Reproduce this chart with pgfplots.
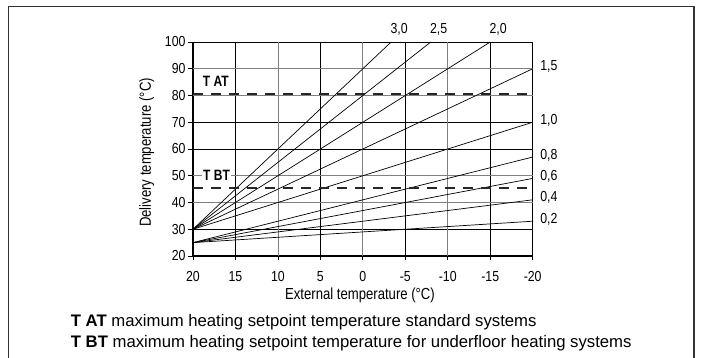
\documentclass[border=0pt]{standalone}
\usepackage{fontspec}
\setmainfont{Liberation Sans}
\newfontfamily\narrowA[FakeStretch=0.85]{Liberation Sans}
\newfontfamily\narrowB[FakeStretch=0.82]{Liberation Sans}
\newfontfamily\narrowC[FakeStretch=0.8]{Liberation Sans}
\usepackage{pgfplots}
\pgfplotsset{compat=1.18}
\newcommand{\tf}{\narrowA\fontsize{14.5}{16}\selectfont}
\newcommand{\lf}{\narrowB\fontsize{16}{18}\selectfont}
\newcommand{\bfn}{\narrowC\bfseries\fontsize{15}{17}\selectfont}
\tikzset{
  line/.style={black, line width=0.7pt},
  toplab/.style={anchor=base west, inner sep=0pt, yshift=8.7pt, xshift=-1pt, font=\tf},
  rlab/.style={anchor=west, inner sep=0pt, xshift=7.3pt, yshift=2pt, font=\tf},
}
\begin{document}
\begin{tikzpicture}[x=1pt,y=1pt]
\begin{axis}[
  at={(193pt,102pt)}, anchor=south west,
  scale only axis, width=339.7pt, height=214pt,
  x dir=reverse, xmin=-20, xmax=20, ymin=20, ymax=100,
  clip=false,
  tick pos=left, tick align=outside, major tick length=4.5pt,
  axis line style={black, line width=1pt},
  every tick/.style={black, line width=0.8pt},
  xtick={20,15,5,-5,-15,-20}, xticklabels={20,15,5,-5,-15,-20},
  extra x ticks={10,0,-10}, extra x tick labels={10,0,-10},
  ytick={20,30,60,70,100}, yticklabels={20,30,60,70,100},
  extra y ticks={40,50,80,90}, extra y tick labels={40,50,80,90},
  grid=major,
  major grid style={black, line width=0.8pt},
  extra x tick style={grid=major, major grid style={black!50, line width=0.8pt}},
  extra y tick style={grid=major, major grid style={black!50, line width=0.8pt}},
  tick label style={font=\tf},
  yticklabel style={xshift=0.5pt},
  xticklabel style={yshift=-7pt},
  xlabel={External temperature (°C)},
  xlabel style={font=\lf, at={(axis description cs:0.4916,-0.1822)}, anchor=center},
  ylabel={Delivery temperature (°C)},
  ylabel style={font=\lf, at={(axis description cs:-0.1363,0.4836)}, anchor=center},
]
\addplot[line] coordinates {(20,30) (-3.333,100)} node[pos=1, toplab] {3,0};
\addplot[line] coordinates {(20,30) (-8,100)} node[pos=1, toplab] {2,5};
\addplot[line] coordinates {(20,30) (-15,100)} node[pos=1, toplab] {2,0};
\addplot[line] coordinates {(20,30) (-20,90)} node[pos=1, rlab] {1,5};
\addplot[line] coordinates {(20,30) (-20,70)} node[pos=1, rlab] {1,0};
\addplot[line] coordinates {(20,25) (-20,57)} node[pos=1, rlab] {0,8};
\addplot[line] coordinates {(20,25) (-20,49)} node[pos=1, rlab] {0,6};
\addplot[line] coordinates {(20,25) (-20,41)} node[pos=1, rlab] {0,4};
\addplot[line] coordinates {(20,25) (-20,33)} node[pos=1, rlab] {0,2};
\addplot[black!85, line width=1.6pt, dash pattern=on 10pt off 8pt] coordinates {(20,80.5) (-20,80.5)};
\addplot[black!85, line width=1.6pt, dash pattern=on 10pt off 8pt] coordinates {(20,45.5) (-20,45.5)};
\node[anchor=west, inner sep=0pt, xshift=9.7pt, font=\bfn] at (axis cs:20,85.2) {T AT};
\node[anchor=west, inner xsep=1.5pt, inner ysep=1pt, fill=white, xshift=8.5pt, font=\bfn] at (axis cs:20,50.3) {T BT};
\end{axis}
\node[anchor=base west, inner sep=0pt, font=\fontsize{16.7}{20}\selectfont] at (70.7,31.3) {\textbf{T AT} maximum heating setpoint temperature standard systems};
\node[anchor=base west, inner sep=0pt, font=\fontsize{16.7}{20}\selectfont] at (70.7,10.7) {\textbf{T BT} maximum heating setpoint temperature for underfloor heating systems};
\draw[line width=1.2pt, black!80] (8.8,-3) -- (8.8,351.3) -- (694,351.3) -- (694,-3);
\pgfresetboundingbox
\path (0,0) rectangle (702,358);
\end{tikzpicture}
\end{document}
